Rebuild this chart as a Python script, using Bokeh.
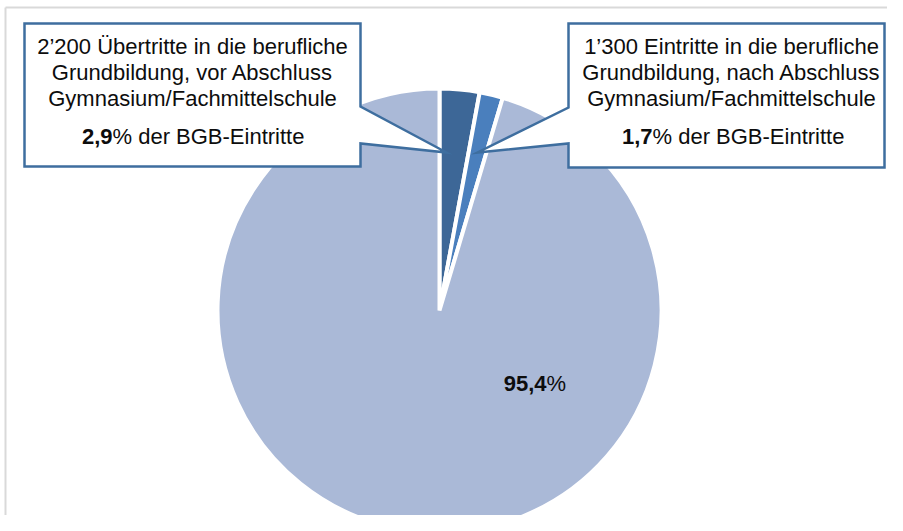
import numpy as np
from bokeh.plotting import figure
from bokeh.models import Range1d
from bokeh.embed import file_html
from bokeh.resources import INLINE
from bokeh.core.properties import value

# ---------------- data ----------------
categories = ["Übertritte vor Abschluss", "Eintritte nach Abschluss", "Übrige BGB-Eintritte"]
shares = [2.9, 1.7, 95.4]
slice_colors = ["#3D6797", "#4A7FBD", "#AAB9D7"]
left_lines = ["2’200 Übertritte in die berufliche", "Grundbildung, vor Abschluss", "Gymnasium/Fachmittelschule"]
right_lines = ["1’300 Eintritte in die berufliche", "Grundbildung, nach Abschluss", "Gymnasium/Fachmittelschule"]
share_suffix = "% der BGB-Eintritte"

def fmt(v):
    return f"{v:.1f}".replace(".", ",")

# ---------------- layout helpers (picture px -> data) ----------------
W, H = 887, 515
def Y(sy):
    return H - sy

FONT = value("Liberation Sans")
FS = "22px"
BORDER = "#3E6E9F"
TXT = "#0D0D0D"

p = figure(width=W, height=H, output_backend="svg", toolbar_location=None,
           x_range=Range1d(0, W), y_range=Range1d(0, H),
           min_border=0, background_fill_color="white", border_fill_color="white")
p.axis.visible = False
p.grid.visible = False
p.outline_line_color = None

# frame lines
p.line([5, W], [Y(7), Y(7)], line_color="#D9D9D9", line_width=2)
p.line([5, 5], [Y(7), Y(H)], line_color="#D9D9D9", line_width=2)

# ---------------- pie ----------------
cum = np.cumsum([0] + shares) / sum(shares)
starts = np.pi / 2 - cum[:-1] * 2 * np.pi
ends = np.pi / 2 - cum[1:] * 2 * np.pi
cx, cy, r = 439, Y(310), 222
p.wedge(x=[cx] * 3, y=[cy] * 3, radius=r, start_angle=list(starts), end_angle=list(ends),
        direction="clock", fill_color=slice_colors, line_color="white", line_width=4)

# ---------------- callouts ----------------
lx = [24, 360, 360, 446, 360, 360, 24]
ly = [23, 23, 106, 152, 143, 166, 166]
p.patch(lx, [Y(v) for v in ly], fill_color="white", line_color=BORDER, line_width=2.5,
        line_join="miter")
rx = [568, 884, 884, 568, 568, 477, 568]
ry = [23, 23, 167, 167, 143, 152, 107]
p.patch(rx, [Y(v) for v in ry], fill_color="white", line_color=BORDER, line_width=2.5,
        line_join="miter")

line_y = [46, 72, 98]
for lines, bx in ((left_lines, 192), (right_lines, 731)):
    p.text(x=[bx] * 3, y=[Y(v) for v in line_y], text=lines, text_font=FONT,
           text_font_size=FS, text_align="center", text_baseline="middle", text_color=TXT)

for val, split in ((shares[0], 112), (shares[1], 652)):
    p.text(x=[split], y=[Y(136)], text=[fmt(val)], text_font=FONT, text_font_size=FS,
           text_font_style="bold", text_align="right", text_baseline="middle", text_color=TXT)
    p.text(x=[split], y=[Y(136)], text=[share_suffix], text_font=FONT, text_font_size=FS,
           text_align="left", text_baseline="middle", text_color=TXT)

# big slice label
p.text(x=[546], y=[Y(383)], text=[fmt(shares[2])], text_font=FONT, text_font_size=FS,
       text_font_style="bold", text_align="right", text_baseline="middle", text_color=TXT)
p.text(x=[546], y=[Y(383)], text=["%"], text_font=FONT, text_font_size=FS,
       text_align="left", text_baseline="middle", text_color=TXT)

open("out.html", "w").write(file_html(p, INLINE))
